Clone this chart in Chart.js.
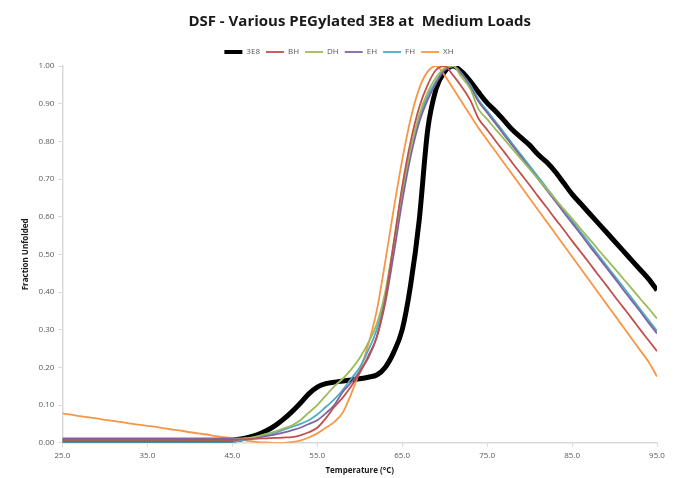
<!DOCTYPE html>
<html>
<head>
<meta charset="utf-8">
<script src="https://cdn.jsdelivr.net/npm/chart.js@4.4.1/dist/chart.umd.min.js"></script>
<style>
  html, body { margin: 0; padding: 0; background: #ffffff; }
  #wrap { width: 676px; height: 478px; }
</style>
</head>
<body>
<div id="wrap"><canvas id="c" width="676" height="478"></canvas></div>
<script>
// Temperature points (°C)
const temperatures = [
  25,26,27,28,29,30,31,32,33,34,35,36,37,38,39,40,41,42,43,44,
  45,46,47,48,49,50,51,52,53,54,55,56,57,58,59,60,61,62,63,64,
  65,66,67,68,69,70,71,72,73,74,75,76,77,78,79,80,81,82,83,84,
  85,86,87,88,89,90,91,92,93,94,95
];

// Fraction unfolded for each construct
const s3E8 = [
  0.005,0.005,0.005,0.005,0.005,0.005,0.005,0.005,0.005,0.005,0.005,0.005,0.005,0.005,0.005,0.005,0.005,0.005,0.005,0.005,
  0.007,0.010,0.015,0.022,0.032,0.045,0.062,0.082,0.105,0.130,0.148,0.157,0.161,0.164,0.167,0.170,0.174,0.180,0.200,0.240,
  0.300,0.420,0.590,0.830,0.940,0.985,1.000,0.985,0.960,0.930,0.902,0.880,0.855,0.830,0.810,0.790,0.765,0.745,0.720,0.690,
  0.660,0.635,0.610,0.585,0.560,0.535,0.510,0.485,0.460,0.435,0.405
];
const sBH = [
  0.008,0.008,0.008,0.008,0.008,0.008,0.008,0.008,0.008,0.008,0.008,0.008,0.008,0.008,0.008,0.008,0.008,0.008,0.008,0.008,
  0.008,0.009,0.010,0.011,0.012,0.013,0.014,0.015,0.020,0.028,0.040,0.065,0.095,0.120,0.150,0.185,0.230,0.280,0.380,0.530,
  0.680,0.800,0.890,0.950,0.990,1.000,0.975,0.945,0.910,0.860,0.831,0.801,0.772,0.742,0.713,0.684,0.654,0.625,0.595,0.566,
  0.536,0.507,0.478,0.448,0.419,0.389,0.360,0.331,0.301,0.272,0.243
];
const sDH = [
  0.008,0.008,0.008,0.008,0.008,0.008,0.008,0.008,0.008,0.008,0.008,0.008,0.008,0.008,0.008,0.008,0.008,0.008,0.008,0.008,
  0.008,0.010,0.013,0.018,0.024,0.030,0.038,0.046,0.060,0.080,0.100,0.125,0.150,0.170,0.195,0.225,0.265,0.315,0.400,0.530,
  0.670,0.780,0.870,0.930,0.970,0.995,1.000,0.970,0.940,0.885,0.859,0.832,0.806,0.779,0.753,0.727,0.700,0.674,0.647,0.621,
  0.595,0.568,0.542,0.515,0.489,0.463,0.436,0.410,0.383,0.357,0.330
];
const sEH = [
  0.012,0.012,0.012,0.012,0.012,0.012,0.012,0.012,0.012,0.012,0.012,0.012,0.012,0.012,0.012,0.012,0.012,0.012,0.012,0.012,
  0.012,0.012,0.013,0.015,0.018,0.022,0.027,0.033,0.040,0.050,0.060,0.078,0.100,0.135,0.160,0.190,0.225,0.280,0.370,0.500,
  0.640,0.760,0.850,0.910,0.955,0.990,1.000,0.980,0.945,0.905,0.876,0.847,0.817,0.788,0.759,0.729,0.700,0.671,0.642,0.612,
  0.583,0.554,0.524,0.495,0.466,0.437,0.407,0.378,0.349,0.319,0.290
];
const sFH = [
  0.002,0.002,0.002,0.002,0.002,0.002,0.002,0.002,0.002,0.002,0.002,0.002,0.002,0.002,0.002,0.002,0.002,0.002,0.002,0.002,
  0.002,0.006,0.010,0.014,0.020,0.026,0.034,0.042,0.050,0.060,0.075,0.095,0.115,0.140,0.170,0.200,0.245,0.300,0.390,0.520,
  0.660,0.770,0.860,0.920,0.960,0.990,1.000,0.980,0.950,0.910,0.881,0.852,0.823,0.793,0.764,0.735,0.706,0.677,0.647,0.618,
  0.589,0.560,0.531,0.501,0.472,0.443,0.414,0.385,0.355,0.326,0.297
];
const sXH = [
  0.078,0.075,0.071,0.068,0.065,0.061,0.058,0.055,0.051,0.048,0.045,0.042,0.038,0.035,0.032,0.028,0.025,0.022,0.018,0.015,
  0.012,0.008,0.005,0.002,0.001,0.000,0.000,0.002,0.006,0.014,0.025,0.040,0.055,0.080,0.130,0.190,0.260,0.350,0.480,0.620,
  0.750,0.860,0.940,0.985,1.000,0.975,0.940,0.905,0.870,0.835,0.804,0.773,0.742,0.711,0.680,0.649,0.618,0.587,0.556,0.525,
  0.494,0.463,0.432,0.401,0.370,0.339,0.308,0.277,0.246,0.215,0.176
];

const seriesNames = ['3E8', 'BH', 'DH', 'EH', 'FH', 'XH'];
const seriesValues = [s3E8, sBH, sDH, sEH, sFH, sXH];
const seriesColors = ['#000000', '#c0504d', '#9bbb59', '#8064a2', '#4bacc6', '#f79646'];
const seriesWidths = [5, 1.8, 1.8, 1.8, 1.8, 1.8];

const yTicks = [0, 0.1, 0.2, 0.3, 0.4, 0.5, 0.6, 0.7, 0.8, 0.9, 1.0];
const xTicks = [25, 35, 45, 55, 65, 75, 85, 95];

const chartTitle = 'DSF - Various PEGylated 3E8 at  Medium Loads';

const datasets = seriesNames.map((name, i) => ({
  label: name,
  data: temperatures.map((t, k) => ({ x: t, y: seriesValues[i][k] })),
  borderColor: seriesColors[i],
  backgroundColor: seriesColors[i],
  borderWidth: seriesWidths[i],
  pointRadius: 0,
  cubicInterpolationMode: 'monotone',
  fill: false,
  order: i === 0 ? 6 : i
}));

const FONT = '"Open Sans", "Liberation Sans", sans-serif';

// Chart heading, centred over the plotting area
const headingPlugin = {
  id: 'heading',
  afterDraw(chart) {
    const { ctx, chartArea } = chart;
    ctx.save();
    ctx.font = 'bold 15px ' + FONT;
    ctx.fillStyle = '#1a1a1a';
    ctx.textAlign = 'center';
    ctx.textBaseline = 'middle';
    ctx.fillText(chartTitle, (chartArea.left + chartArea.right) / 2, 22);
    ctx.restore();
  }
};

new Chart(document.getElementById('c'), {
  type: 'line',
  data: { datasets },
  plugins: [headingPlugin],
  options: {
    responsive: false,
    animation: false,
    layout: { padding: { left: 21, right: 19, top: 42, bottom: 2 } },
    plugins: {
      title: { display: false },
      legend: {
        display: true,
        position: 'top',
        labels: {
          usePointStyle: true,
          pointStyle: 'line',
          pointStyleWidth: 18,
          boxHeight: 6,
          padding: 6,
          color: '#595959',
          font: { family: FONT, size: 8 },
          generateLabels(chart) {
            return chart.data.datasets.map((ds, i) => ({
              text: ds.label,
              strokeStyle: ds.borderColor,
              fillStyle: ds.borderColor,
              lineWidth: i === 0 ? 4 : 1.8,
              pointStyle: 'line',
              fontColor: '#595959',
              datasetIndex: i,
              hidden: false
            }));
          }
        }
      },
      tooltip: { enabled: false }
    },
    scales: {
      x: {
        type: 'linear',
        min: 25,
        max: 95,
        afterBuildTicks(axis) { axis.ticks = xTicks.map(v => ({ value: v })); },
        ticks: {
          color: '#595959',
          font: { family: FONT, size: 8 },
          padding: 4,
          maxRotation: 0,
          callback: v => Number(v).toFixed(1)
        },
        grid: { display: true, drawOnChartArea: false, tickLength: 4, color: '#d9d9d9' },
        border: { color: '#d9d9d9', width: 1.5 },
        title: {
          display: true,
          text: 'Temperature (°C)',
          color: '#1a1a1a',
          font: { family: FONT, size: 8, weight: 'bold' },
          padding: { top: 2, bottom: 0 }
        }
      },
      y: {
        min: 0,
        max: 1,
        afterBuildTicks(axis) { axis.ticks = yTicks.map(v => ({ value: v })); },
        ticks: {
          color: '#595959',
          font: { family: FONT, size: 8 },
          padding: 4,
          callback: v => Number(v).toFixed(2)
        },
        grid: { display: true, drawOnChartArea: false, tickLength: 4, color: '#d9d9d9' },
        border: { color: '#d9d9d9', width: 1.5 },
        title: {
          display: true,
          text: 'Fraction Unfolded',
          color: '#1a1a1a',
          font: { family: FONT, size: 8, weight: 'bold' },
          padding: { top: 0, bottom: 4 }
        }
      }
    }
  }
});
</script>
</body>
</html>
